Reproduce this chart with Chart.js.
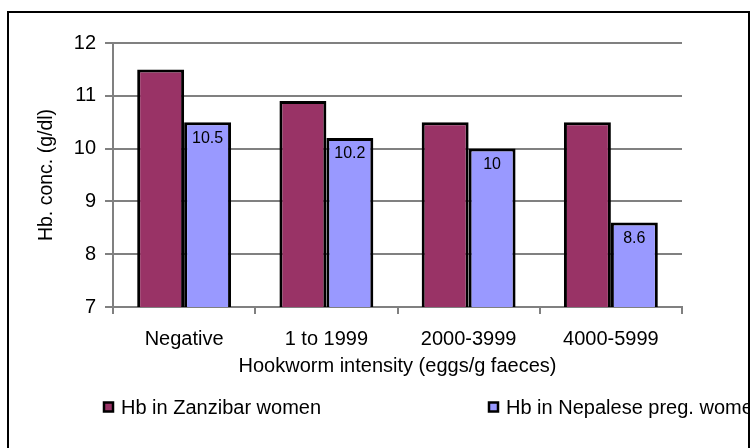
<!DOCTYPE html>
<html>
<head>
<meta charset="utf-8">
<script src="https://cdn.jsdelivr.net/npm/chart.js@4.4.1/dist/chart.umd.min.js"></script>
<style>
  body { margin: 0; background: #fff; }
  #frame {
    position: absolute;
    left: 7px;
    top: 11px;
    width: 739px;
    height: 460px;
    border: 2px solid #000;
    overflow: hidden;
  }
  #hbChart { position: absolute; left: -9px; top: -13px; }
</style>
</head>
<body>
<div id="frame">
  <canvas id="hbChart" width="751" height="448"></canvas>
</div>
<script>
const categories = ["Negative", "1 to 1999", "2000-3999", "4000-5999"];
const zanzibar = [11.5, 10.9, 10.5, 10.5];
const nepalese = [10.5, 10.2, 10, 8.6];
const seriesNames = ["Hb in Zanzibar women", "Hb in Nepalese preg. women"];

const FONT = "'Liberation Sans', Arial, sans-serif";

// value labels on the blue bars, just inside the top
const barValues = {
  id: "barValues",
  afterDatasetsDraw(chart) {
    const ctx = chart.ctx;
    const meta = chart.getDatasetMeta(1);
    ctx.save();
    ctx.font = "16px " + FONT;
    ctx.fillStyle = "#000";
    ctx.textAlign = "center";
    ctx.textBaseline = "middle";
    meta.data.forEach((bar, i) => {
      ctx.fillText(String(nepalese[i]), bar.x, bar.y + 16);
    });
    ctx.restore();
  },
};

// excel style legend, spread wide and clipped by the frame
const wideLegend = {
  id: "wideLegend",
  afterDraw(chart) {
    const ctx = chart.ctx;
    const spots = [103, 488];
    const y = 407;
    ctx.save();
    ctx.font = "20px " + FONT;
    ctx.textBaseline = "middle";
    chart.data.datasets.forEach((ds, i) => {
      const x = spots[i];
      ctx.fillStyle = ds.backgroundColor;
      ctx.fillRect(x + 1, y - 4.5, 9, 9);
      ctx.lineWidth = 2.5;
      ctx.strokeStyle = "#000";
      ctx.strokeRect(x + 1, y - 4.5, 9, 9);
      ctx.fillStyle = "#000";
      ctx.fillText(ds.label, x + 18, y + 1);
    });
    ctx.restore();
  },
};

new Chart(document.getElementById("hbChart"), {
  type: "bar",
  data: {
    labels: categories,
    datasets: [
      {
        label: seriesNames[0],
        data: zanzibar,
        backgroundColor: "#993366",
        borderColor: "#000",
        borderWidth: 3,
        borderSkipped: false,
      },
      {
        label: seriesNames[1],
        data: nepalese,
        backgroundColor: "#9999FF",
        borderColor: "#000",
        borderWidth: 3,
        borderSkipped: false,
      },
    ],
  },
  options: {
    responsive: false,
    animation: false,
    layout: {
      padding: { left: 30, right: 69, top: 43, bottom: 70 },
    },
    datasets: {
      bar: { categoryPercentage: 0.66, barPercentage: 1 },
    },
    plugins: {
      legend: { display: false },
      tooltip: { enabled: false },
    },
    scales: {
      y: {
        min: 7,
        max: 12,
        ticks: {
          stepSize: 1,
          color: "#000",
          padding: 9,
          font: { family: FONT, size: 20 },
        },
        grid: {
          color: "#808080",
          lineWidth: 2,
          tickLength: 8,
        },
        border: { color: "#808080", width: 2 },
        title: {
          display: true,
          text: "Hb. conc. (g/dl)",
          color: "#000",
          font: { family: FONT, size: 19.5 },
          padding: { top: 5, bottom: 0 },
        },
        afterFit(scale) {
          scale.width = 83;
        },
      },
      x: {
        ticks: {
          color: "#000",
          padding: 13,
          font: { family: FONT, size: 20 },
        },
        grid: {
          offset: true,
          drawOnChartArea: false,
          color: "#808080",
          lineWidth: 2,
          tickLength: 7,
        },
        border: { color: "#808080", width: 2 },
        title: {
          display: true,
          text: "Hookworm intensity (eggs/g faeces)",
          color: "#000",
          font: { family: FONT, size: 20 },
          padding: { top: 0, bottom: 0 },
        },
        afterFit(scale) {
          scale.height = 71;
        },
      },
    },
  },
  plugins: [barValues, wideLegend],
});
</script>
</body>
</html>
